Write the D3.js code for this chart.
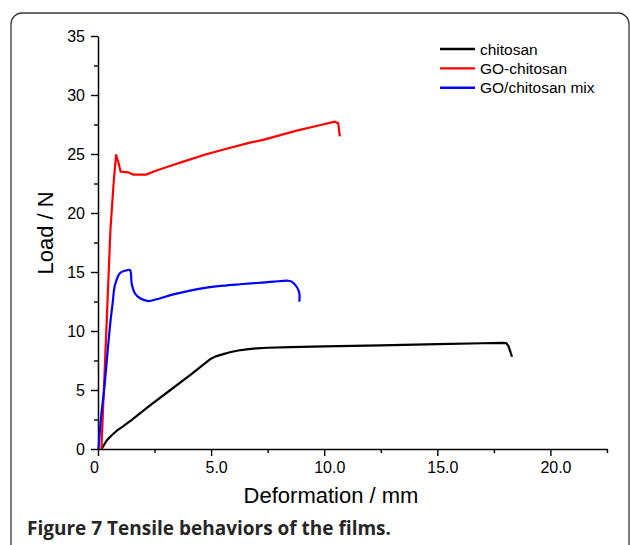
<!DOCTYPE html>
<html>
<head>
<meta charset="utf-8">
<script src="https://cdn.jsdelivr.net/npm/d3@7"></script>
<style>
  html, body { margin: 0; padding: 0; background: #fff; }
  svg { display: block; }
  .tick text { font-family: "Liberation Sans", Arial, sans-serif; font-size: 16px; fill: #000; }
</style>
</head>
<body>
<script>
// Tensile test curves: deformation (mm) vs load (N)
const seriesNames = ["chitosan", "GO-chitosan", "GO/chitosan mix"];
const seriesColors = ["#000000", "#ff0000", "#0000ff"];

const chitosan = [
  [0.16, 0], [0.28, 0.4], [0.4, 0.76], [0.62, 1.19], [0.83, 1.55], [1.06, 1.85],
  [1.45, 2.4], [2.3, 3.7], [3.2, 5.0], [4.1, 6.3], [4.95, 7.6], [5.2, 7.85],
  [5.5, 8.02], [5.83, 8.2], [6.2, 8.35], [6.57, 8.45], [7.0, 8.53], [7.5, 8.58],
  [8.5, 8.64], [10, 8.7], [12.5, 8.78], [15, 8.88], [17, 8.96], [17.9, 9.0],
  [18.05, 8.97], [18.15, 8.7], [18.22, 8.3], [18.3, 7.82]
];
const goChitosan = [
  [0.15, 0], [0.35, 9.2], [0.55, 18.6], [0.7, 22.8], [0.8, 24.9], [0.9, 24.3],
  [1.0, 23.5], [1.34, 23.45], [1.56, 23.25], [2.12, 23.25], [2.59, 23.6],
  [3.18, 23.98], [3.77, 24.35], [4.65, 24.9], [5.6, 25.4], [6.72, 25.96],
  [7.3, 26.2], [8.78, 26.98], [9.66, 27.37], [10.47, 27.74], [10.62, 27.6],
  [10.69, 26.5]
];
const goChitosanMix = [
  [0.02, 0], [0.15, 3.0], [0.27, 5.0], [0.45, 8.8], [0.55, 10.8], [0.65, 12.4],
  [0.75, 13.9], [0.97, 14.9], [1.19, 15.1], [1.41, 15.17], [1.49, 14.0],
  [1.63, 13.2], [1.86, 12.77], [2.22, 12.54], [2.59, 12.69], [3.33, 13.1],
  [4.07, 13.42], [4.8, 13.67], [5.54, 13.84], [6.27, 13.96], [7.01, 14.07],
  [7.75, 14.18], [8.41, 14.26], [8.56, 14.18], [8.78, 13.75], [8.9, 13.2],
  [8.9, 12.48]
];

const xMajorTicks = [0, 5, 10, 15, 20];
const xMinorTicks = [2.5, 7.5, 12.5, 17.5, 22.5];
const xTickLabels = ["0", "5.0", "10.0", "15.0", "20.0"];
const yMajorTicks = [0, 5, 10, 15, 20, 25, 30, 35];
const yMinorTicks = [2.5, 7.5, 12.5, 17.5, 22.5, 27.5, 32.5];

const W = 630, H = 545;
const svg = d3.select("body").append("svg").attr("width", W).attr("height", H);

// rounded frame around figure and caption
svg.append("rect")
  .attr("x", 11).attr("y", 13).attr("width", 618).attr("height", 560)
  .attr("rx", 11).attr("ry", 11)
  .attr("fill", "none").attr("stroke", "#3a3a3a").attr("stroke-width", 1.3);

const x = d3.scaleLinear().domain([0, 22.5]).range([98, 607]);
const y = d3.scaleLinear().domain([0, 35]).range([449, 36]);

// x axis: minor ticks then labelled major ticks
svg.append("g").attr("transform", `translate(0,${y(0)})`)
  .call(d3.axisBottom(x).tickValues(xMinorTicks).tickSize(4).tickSizeOuter(0).tickFormat(""))
  .call(g => g.select(".domain").attr("stroke", "#000").attr("stroke-width", 1.5))
  .call(g => g.selectAll(".tick line").attr("stroke-width", 1.4));
svg.append("g").attr("transform", `translate(0,${y(0)})`)
  .call(d3.axisBottom(x).tickValues(xMajorTicks).tickSize(7).tickSizeOuter(0)
    .tickFormat((d, i) => xTickLabels[i]))
  .call(g => g.select(".domain").remove())
  .call(g => g.selectAll(".tick line").attr("stroke-width", 1.4))
  .call(g => g.selectAll(".tick text").attr("y", 13)
    .attr("dx", d => d === 0 ? -4 : 5));

// y axis
svg.append("g").attr("transform", `translate(${x(0)},0)`)
  .call(d3.axisLeft(y).tickValues(yMinorTicks).tickSize(4).tickSizeOuter(0).tickFormat(""))
  .call(g => g.select(".domain").attr("stroke", "#000").attr("stroke-width", 1.5))
  .call(g => g.selectAll(".tick line").attr("stroke-width", 1.4));
svg.append("g").attr("transform", `translate(${x(0)},0)`)
  .call(d3.axisLeft(y).tickValues(yMajorTicks).tickSize(7).tickSizeOuter(0).tickPadding(6))
  .call(g => g.select(".domain").remove())
  .call(g => g.selectAll(".tick line").attr("stroke-width", 1.4));

// curves
const line = d3.line().x(d => x(d[0])).y(d => y(d[1]));
const smooth = d3.line().x(d => x(d[0])).y(d => y(d[1])).curve(d3.curveCatmullRom.alpha(0.5));
const curves = [
  { data: chitosan, gen: line },
  { data: goChitosan, gen: line },
  { data: goChitosanMix, gen: smooth }
];
curves.forEach((c, i) => {
  svg.append("path").attr("d", c.gen(c.data))
    .attr("fill", "none").attr("stroke", seriesColors[i])
    .attr("stroke-width", 2.2).attr("stroke-linejoin", "round");
});

// legend
const legend = svg.append("g").attr("transform", "translate(440,49)");
seriesNames.forEach((name, i) => {
  const row = legend.append("g").attr("transform", `translate(0,${i * 19.4})`);
  row.append("line").attr("x1", 0).attr("x2", 35).attr("y1", 0).attr("y2", 0)
    .attr("stroke", seriesColors[i]).attr("stroke-width", 2.4);
  row.append("text").attr("x", 40).attr("y", 5.5)
    .attr("font-family", "'Liberation Sans', Arial, sans-serif").attr("font-size", 15.5)
    .text(name);
});

// axis titles
svg.append("text").attr("x", 331).attr("y", 503).attr("text-anchor", "middle")
  .attr("font-family", "'Liberation Sans', Arial, sans-serif").attr("font-size", 22)
  .text("Deformation / mm");
svg.append("text").attr("transform", "translate(53,233) rotate(-90)").attr("text-anchor", "middle")
  .attr("font-family", "'Liberation Sans', Arial, sans-serif").attr("font-size", 22)
  .text("Load / N");

// caption
const cap = svg.append("text").attr("x", 27).attr("y", 535)
  .attr("font-family", "'Open Sans', sans-serif").attr("font-weight", "bold")
  .attr("font-size", 19).attr("fill", "#262626");
cap.append("tspan").text("Figure 7");
cap.append("tspan").text(" Tensile behaviors of the films.");
</script>
</body>
</html>
